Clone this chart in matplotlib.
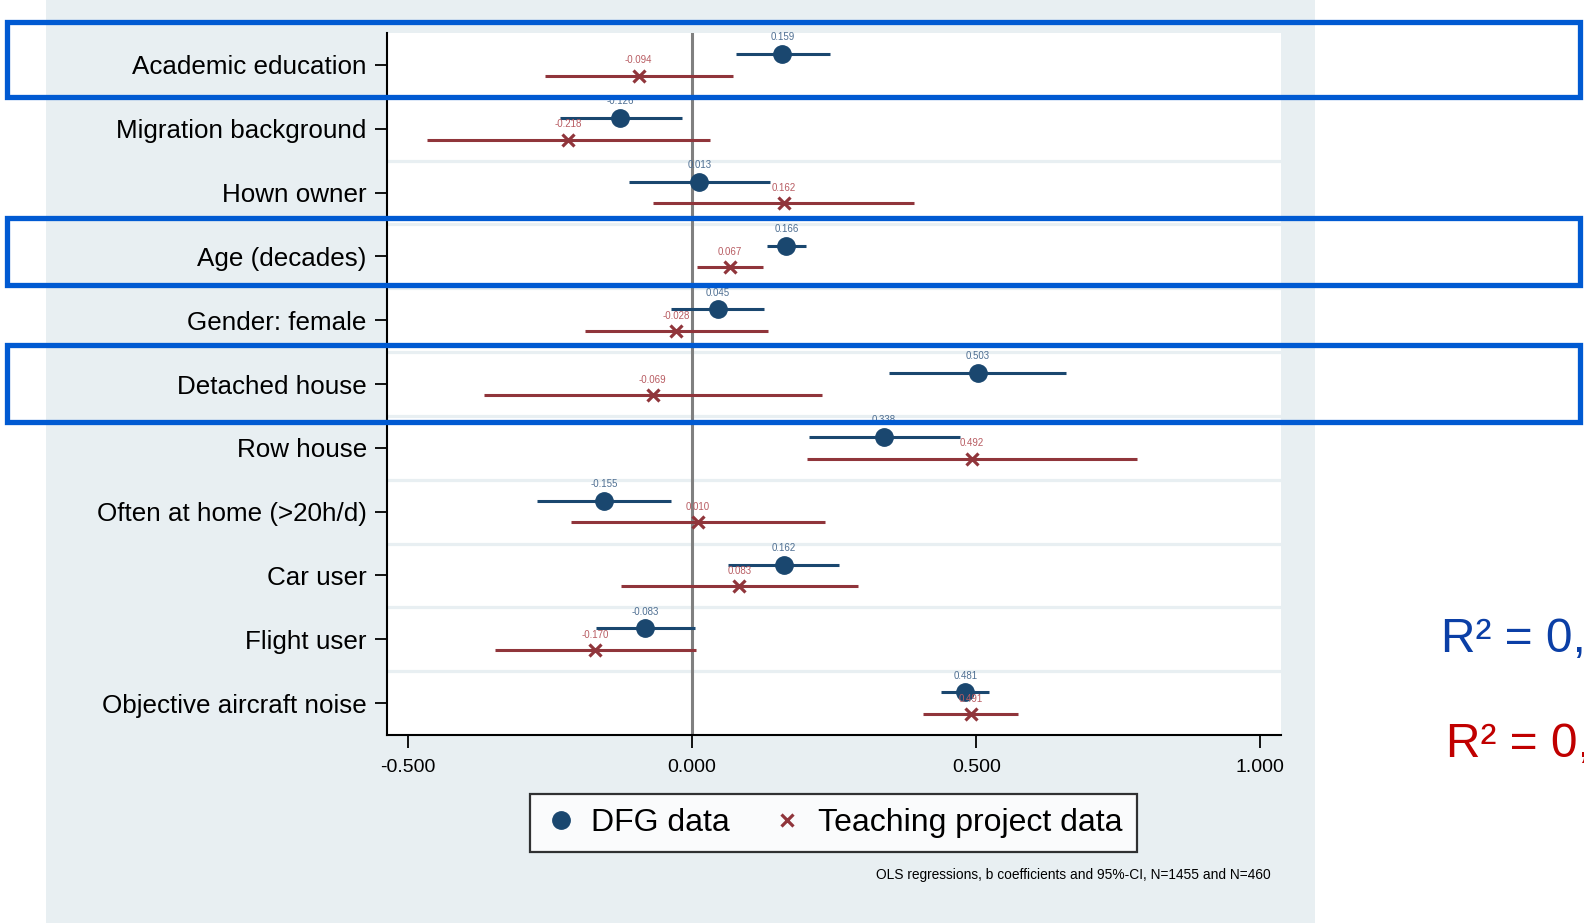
import matplotlib.pyplot as plt
from matplotlib.patches import Rectangle
from matplotlib.lines import Line2D
import numpy as np

plt.rcParams['font.family'] = ['Liberation Sans', 'DejaVu Sans']

# coefficient plot data (b and 95% CI), rows top to bottom
labels = ['Academic education', 'Migration background', 'Hown owner',
          'Age (decades)', 'Gender: female', 'Detached house', 'Row house',
          'Often at home (>20h/d)', 'Car user', 'Flight user',
          'Objective aircraft noise']
dfg_b = [0.159, -0.126, 0.013, 0.166, 0.045, 0.503, 0.338, -0.155, 0.162, -0.083, 0.481]
dfg_lo = [0.077, -0.233, -0.111, 0.132, -0.037, 0.347, 0.205, -0.273, 0.064, -0.169, 0.438]
dfg_hi = [0.242, -0.017, 0.137, 0.200, 0.127, 0.658, 0.472, -0.037, 0.259, 0.005, 0.523]
tp_b = [-0.094, -0.218, 0.162, 0.067, -0.028, -0.069, 0.492, 0.010, 0.083, -0.170, 0.491]
tp_lo = [-0.259, -0.467, -0.068, 0.008, -0.189, -0.366, 0.202, -0.213, -0.125, -0.347, 0.407]
tp_hi = [0.072, 0.032, 0.391, 0.125, 0.133, 0.228, 0.782, 0.234, 0.292, 0.007, 0.574]
xticks = [-0.5, 0.0, 0.5, 1.0]

navy = '#1a476f'
maroon = '#90353b'
panel = '#e8eff2'
hl_blue = '#005ad2'

W, H = 1584, 923
fig = plt.figure(figsize=(W / 100, H / 100), dpi=100)

# background panel (pixel coordinates)
bg = fig.add_axes([0, 0, 1, 1], zorder=-5)
bg.set_xlim(0, W)
bg.set_ylim(H, 0)
bg.axis('off')
bg.add_patch(Rectangle((46, 0), 1269, H, color=panel, lw=0))

ax = fig.add_axes([387 / W, 1 - 735 / H, (1281 - 387) / W, (735 - 33) / H])
ax.set_facecolor('white')
y = np.arange(len(labels))
off = 0.17

for k in range(len(labels) - 1):
    ax.axhline(k + 0.5, color=panel, lw=2.3, zorder=0)
ax.axvline(0, color='#808080', lw=2.2, zorder=1)

ax.hlines(y - off, dfg_lo, dfg_hi, color=navy, lw=2.2, zorder=2)
ax.plot(dfg_b, y - off, 'o', color=navy, ms=12.5, zorder=3, label='DFG data')
ax.hlines(y + off, tp_lo, tp_hi, color=maroon, lw=2.2, zorder=2)
ax.plot(tp_b, y + off, 'x', color=maroon, ms=9, mew=2.3, zorder=3,
        label='Teaching project data')

for i in range(len(labels)):
    ax.annotate(f'{dfg_b[i]:.3f}', (dfg_b[i], y[i] - off), xytext=(0, 12),
                textcoords='offset points', ha='center', va='center',
                fontsize=7, color='#4f6f92', zorder=4)
    ax.annotate(f'{tp_b[i]:.3f}', (tp_b[i], y[i] + off), xytext=(0, 11),
                textcoords='offset points', ha='center', va='center',
                fontsize=7, color='#b85c62', zorder=4)

ax.set_xlim(-0.5366, 1.0362)
ax.set_ylim(len(labels) - 0.5, -0.5)
ax.set_yticks(y)
ax.set_yticklabels(labels, fontsize=18.7)
ax.set_xticks(xticks)
ax.set_xticklabels([f'{t:.3f}' for t in xticks], fontsize=14)
ax.tick_params(axis='y', length=8.5, width=1.3, pad=6)
ax.tick_params(axis='x', length=9.5, width=1.3, pad=8)
for s in ['top', 'right']:
    ax.spines[s].set_visible(False)
for s in ['left', 'bottom']:
    ax.spines[s].set_linewidth(1.5)

handles = [Line2D([], [], marker='o', color=navy, ls='none', ms=12.5),
           Line2D([], [], marker='x', color=maroon, ls='none', ms=9, mew=2.3)]
leg = ax.legend(handles, ['DFG data', 'Teaching project data'], ncol=2,
                loc='center', bbox_to_anchor=(833.5 / W, 1 - 823 / H),
                bbox_transform=fig.transFigure, fontsize=23, frameon=True,
                fancybox=False, edgecolor='black', borderpad=0.45,
                handletextpad=0.45, columnspacing=1.3, handlelength=1.0,
                borderaxespad=0)
leg.get_frame().set_linewidth(1.6)

fig.text(1271 / W, 1 - 875 / H,
         'OLS regressions, b coefficients and 95%-CI, N=1455 and N=460',
         ha='right', va='center', fontsize=9.9)

# R² notes on the slide, cut off at the right edge as in the original
fig.text(1441 / W, 1 - 652 / H, 'R\u00b2 = 0,', color='#0b3fa6', fontsize=34.5,
         ha='left', va='baseline')
fig.text(1446 / W, 1 - 757 / H, 'R\u00b2 = 0,', color='#c00000', fontsize=34.5,
         ha='left', va='baseline')

# highlight boxes over the slide
top = fig.add_axes([0, 0, 1, 1], zorder=10)
top.set_xlim(0, W)
top.set_ylim(H, 0)
top.axis('off')
top.patch.set_alpha(0)
for y0, y1 in [(22, 96.5), (218, 284.5), (345, 421.5)]:
    top.add_patch(Rectangle((6.5, y0), 1573, y1 - y0, fill=False,
                            ec=hl_blue, lw=3.8))

fig.savefig('out.png', dpi=100)
